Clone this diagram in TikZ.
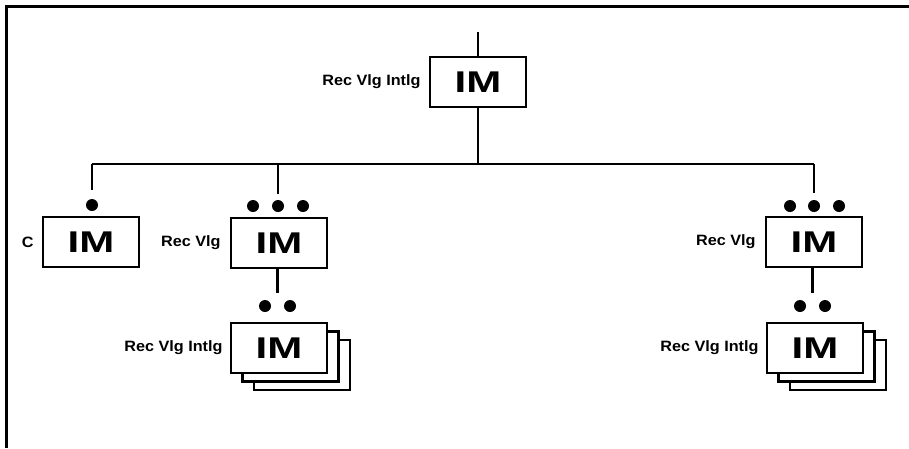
\documentclass[tikz,border=0pt]{standalone}
\usepackage{fontspec}
\setmainfont{Liberation Sans}
\newfontfamily\imfont{Liberation Sans}[FakeStretch=1.4]
\newfontfamily\lblfont{Liberation Sans}[FakeStretch=1.08]
\usetikzlibrary{positioning,calc}
\tikzset{
  imbox/.style={draw, fill=white, line width=2.6pt, minimum width=96pt, minimum height=50pt, inner sep=0pt, font=\imfont\bfseries\fontsize{30}{30}\selectfont},
  imlabel/.style={font=\lblfont\bfseries\fontsize{15}{15}\selectfont, inner sep=0pt},
  imdot/.style={circle, fill, inner sep=0pt, minimum size=12pt},
  imline/.style={line width=2.6pt},
}
\begin{document}
\begin{tikzpicture}[x=1pt, y=-1pt]
  \useasboundingbox (0,0) rectangle (909,448);
  % frame
  \draw[line width=3pt] (6.5,448) -- (6.5,6.5) -- (909,6.5);
  % boxes
  \node[imbox] (imtop) at (478,82) {IM};
  \node[imbox] (imc) at (91,242) {IM};
  \node[imbox] (imlv) at (279,243) {IM};
  \node[imbox] (imls3) at (302,365) {};
  \node[imbox] (imls2) at (290.5,356.5) {};
  \node[imbox] (imls) at (279,348) {IM};
  \node[imbox] (imrv) at (814,242) {IM};
  \node[imbox] (imrs3) at (838,365) {};
  \node[imbox] (imrs2) at (826.5,356.5) {};
  \node[imbox] (imrs) at (815,348) {IM};
  % labels
  \node[imlabel, left=8pt of imtop] (ltop) {Rec Vlg Intlg};
  \node[imlabel, left=8pt of imc] (lc) {C};
  \node[imlabel, left=9pt of imlv] (llv) {Rec Vlg};
  \node[imlabel, left=7pt of imls] (lls) {Rec Vlg Intlg};
  \node[imlabel, left=9pt of imrv] (lrv) {Rec Vlg};
  \node[imlabel, left=7pt of imrs] (lrs) {Rec Vlg Intlg};
  % dots
  \node[imdot] (dotc) at (92,205) {};
  \node[imdot] (dl1) at (253,206) {};
  \node[imdot] (dl2) at (278,206) {};
  \node[imdot] (dl3) at (303,206) {};
  \node[imdot] (dr1) at (790,206) {};
  \node[imdot] (dr2) at (814,206) {};
  \node[imdot] (dr3) at (839,206) {};
  \node[imdot] (dl4) at (265,306) {};
  \node[imdot] (dl5) at (290,306) {};
  \node[imdot] (dr4) at (800,306) {};
  \node[imdot] (dr5) at (825,306) {};
  % lines
  \coordinate (topin) at (478,32);
  \coordinate (busl) at (92,164);
  \coordinate (busr) at (814,164);
  \coordinate (pl) at ($(dl4)!.5!(dl5)$);
  \coordinate (pr) at ($(dr4)!.5!(dr5)$);
  \draw[imline] (topin) -- (imtop);
  \draw[imline] (imtop) -- (imtop |- busl);
  \draw[imline] (busl) -- (busr);
  \draw[imline, shorten >=9pt] (busl) -- (dotc);
  \draw[imline, shorten >=6pt] (busl -| dl2) -- (dl2);
  \draw[imline, shorten >=7pt] (busr) -- (dr2);
  \draw[imline, shorten >=13pt] (imlv.south -| pl) -- (pl);
  \draw[imline, shorten >=13pt] (imrv.south -| pr) -- (pr);
\end{tikzpicture}
\end{document}
